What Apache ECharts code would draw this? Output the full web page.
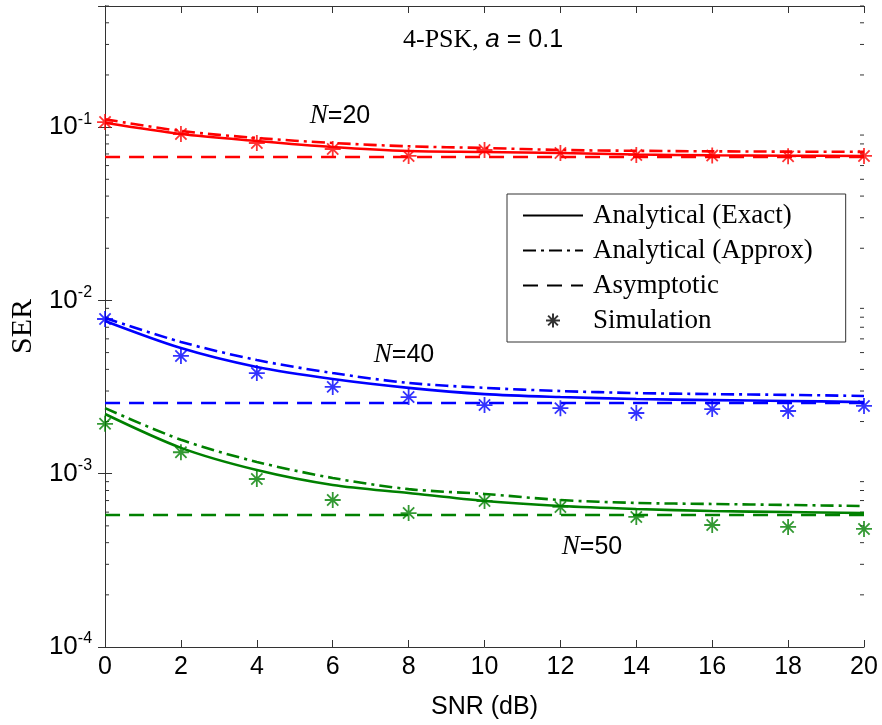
<!DOCTYPE html>
<html>
<head>
<meta charset="utf-8">
<script src="https://cdn.jsdelivr.net/npm/echarts@6/dist/echarts.min.js"></script>
<style>
  html, body { margin: 0; padding: 0; background: #fff; }
  #chart { width: 882px; height: 725px; }
</style>
</head>
<body>
<div id="chart"></div>
<script>
// SNR grid (dB)
const snr = [0, 2, 4, 6, 8, 10, 12, 14, 16, 18, 20]

// N = 20 (red)
const exact20  = [0.106, 0.0913, 0.0832, 0.0768, 0.0728, 0.0719, 0.0709, 0.0695, 0.0688, 0.0684, 0.0682]
const approx20 = [0.111, 0.095, 0.0866, 0.081, 0.0775, 0.0758, 0.0738, 0.073, 0.0725, 0.0722, 0.072]
const sim20    = [0.107, 0.0913, 0.081, 0.0748, 0.0682, 0.0738, 0.0709, 0.0691, 0.0685, 0.0678, 0.0682]
const asym20   = 0.0673

// N = 40 (blue)
const exact40  = [0.00761, 0.00531, 0.00413, 0.00352, 0.00313, 0.00288, 0.00277, 0.0027, 0.00266, 0.00263, 0.00259]
const approx40 = [0.00792, 0.00576, 0.00453, 0.00381, 0.00334, 0.00313, 0.003, 0.00292, 0.00288, 0.00285, 0.00281]
const sim40    = [0.00781, 0.00478, 0.00381, 0.00317, 0.00277, 0.00249, 0.00239, 0.00224, 0.00236, 0.0023, 0.00246]
const asym40   = 0.00256

// N = 50 (green)
const exact50  = [0.00221, 0.00141, 0.00105, 0.000861, 0.000774, 0.000696, 0.000651, 0.000626, 0.000609, 0.000601, 0.000593]
const approx50 = [0.00239, 0.00157, 0.00117, 0.000945, 0.000815, 0.000764, 0.000705, 0.000678, 0.000669, 0.00066, 0.000651]
const sim50    = [0.00194, 0.00133, 0.000932, 0.000705, 0.000593, 0.000696, 0.000643, 0.000563, 0.000506, 0.000493, 0.00048]
const asym50   = 0.000578

// log axis decades and minor-tick mantissas
const decades = [1e-4, 1e-3, 1e-2, 1e-1]
const mantissas = [2, 3, 4, 5, 6, 7, 8, 9]
const yMin = 1e-4, yMax = 0.5

const minorVals = []
decades.forEach(d => mantissas.forEach(m => { if (m * d <= yMax + 1e-12) minorVals.push(m * d) }))

const sans = 'Liberation Sans'
const serif = 'Liberation Serif'
const axisColor = '#333'
const star = 'path://M0,-10L0,10M-10,0L10,0M-7,-7L7,7M-7,7L7,-7'

const pair = arr => snr.map((x, i) => [x, arr[i]])

function curve(arr, color, type) {
  return {
    type: 'line', data: pair(arr), symbol: 'none', smooth: 0.3,
    lineStyle: { color: color, width: 2.6, type: type }, z: 3, silent: true
  }
}
function asymLine(v, color) {
  return {
    type: 'line', data: [[snr[0], v], [snr[snr.length - 1], v]], symbol: 'none',
    lineStyle: { color: color, width: 2.6, type: [15, 9] }, z: 3, silent: true
  }
}
function simPoints(arr, color) {
  return {
    type: 'scatter', data: pair(arr), symbol: star, symbolSize: 16,
    itemStyle: { color: 'none', borderColor: color, borderWidth: 1.8 }, z: 4, silent: true
  }
}

const dashDot = [13, 5, 3, 5]
const red = '#ff0000', blue = '#0000ff', green = '#008000'
const clear = 'rgba(0,0,0,0)'

const expFormatter = v => {
  const l = Math.log10(v)
  const e = Math.round(l)
  if (Math.abs(l - e) > 1e-6) return ''
  return '{b|10}{e|' + e + '}'
}

const chart = echarts.init(document.getElementById('chart'))

chart.setOption({
  animation: false,
  backgroundColor: '#fff',
  grid: { left: 101, right: 18, top: 6, bottom: 78 },
  xAxis: [{
    type: 'value', min: 0, max: 20, interval: 2,
    name: 'SNR (dB)', nameLocation: 'middle', nameGap: 48,
    nameTextStyle: { fontFamily: sans, fontSize: 25, color: '#000' },
    axisLine: { lineStyle: { color: axisColor, width: 1 } },
    axisTick: { inside: true, length: 7, lineStyle: { color: axisColor } },
    axisLabel: { fontFamily: sans, fontSize: 25, color: '#000', margin: 8 },
    splitLine: { show: false }
  }, {
    type: 'value', min: 0, max: 20, interval: 2, position: 'top',
    axisLine: { lineStyle: { color: axisColor, width: 1 } },
    axisTick: { inside: true, length: 7, lineStyle: { color: axisColor } },
    axisLabel: { show: false }, splitLine: { show: false }
  }],
  yAxis: [{
    type: 'log', logBase: 10, min: yMin, max: yMax,
    name: 'SER', nameLocation: 'middle', nameGap: 66,
    nameTextStyle: { fontFamily: serif, fontSize: 30, color: '#000' },
    axisLine: { lineStyle: { color: axisColor, width: 1 } },
    axisTick: { inside: true, length: 7, lineStyle: { color: axisColor } },
    axisLabel: {
      formatter: expFormatter, margin: 13,
      rich: {
        b: { fontFamily: sans, fontSize: 26, color: '#000', lineHeight: 30 },
        e: { fontFamily: sans, fontSize: 16, color: '#000', lineHeight: 16, padding: [0, 0, 16, 0] }
      }
    },
    splitLine: { show: false }
  }, {
    type: 'log', logBase: 10, min: yMin, max: yMax, position: 'right',
    axisLine: { lineStyle: { color: axisColor, width: 1 } },
    axisTick: { inside: true, length: 7, lineStyle: { color: axisColor } },
    axisLabel: { show: false }, splitLine: { show: false }
  }],
  legend: {
    data: ['Analytical (Exact)', 'Analytical (Approx)', 'Asymptotic', 'Simulation'],
    orient: 'vertical', left: 507, top: 194,
    padding: [8, 33, 8, 15], itemGap: 8, itemWidth: 60, itemHeight: 14,
    backgroundColor: '#fff', borderColor: '#333', borderWidth: 1,
    textStyle: { fontFamily: serif, fontSize: 27, color: '#000', padding: [0, 0, 0, 5] },
    selectedMode: false
  },
  graphic: [
    {
      type: 'text', x: 483, y: 40, z: 10,
      style: {
        text: '{s|4-PSK, }{i|a}{n| = 0.1}', align: 'center', verticalAlign: 'middle',
        rich: {
          s: { fontFamily: serif, fontSize: 26, fill: '#000' },
          i: { fontFamily: sans, fontStyle: 'italic', fontSize: 26, fill: '#000' },
          n: { fontFamily: sans, fontSize: 25, fill: '#000' }
        }
      }
    },
    ...[['20', 340, 116], ['40', 404, 355], ['50', 592, 547]].map(([n, x, y]) => ({
      type: 'text', x: x, y: y, z: 10,
      style: {
        text: '{i|N}{n|=' + n + '}', align: 'center', verticalAlign: 'middle',
        rich: {
          i: { fontFamily: serif, fontStyle: 'italic', fontSize: 27, fill: '#000' },
          n: { fontFamily: sans, fontSize: 25, fill: '#000' }
        }
      }
    }))
  ],
  series: [
    // minor ticks on the log axis, both sides
    {
      type: 'custom', silent: true, z: 1,
      data: minorVals.map(v => [snr[0], v]),
      renderItem: (params, api) => {
        const v = api.value(1)
        const l = api.coord([snr[0], v])
        const r = api.coord([snr[snr.length - 1], v])
        const st = { stroke: axisColor, lineWidth: 1 }
        return {
          type: 'group', children: [
            { type: 'line', shape: { x1: l[0], y1: l[1], x2: l[0] + 4, y2: l[1] }, style: st },
            { type: 'line', shape: { x1: r[0] - 4, y1: r[1], x2: r[0], y2: r[1] }, style: st }
          ]
        }
      }
    },
    // legend entries (black)
    { name: 'Analytical (Exact)', type: 'line', data: [], symbol: 'none', lineStyle: { color: '#000', width: 2.6 }, itemStyle: { color: clear, borderColor: clear } },
    { name: 'Analytical (Approx)', type: 'line', data: [], symbol: 'none', lineStyle: { color: '#000', width: 2.6, type: dashDot }, itemStyle: { color: clear, borderColor: clear } },
    { name: 'Asymptotic', type: 'line', data: [], symbol: 'none', lineStyle: { color: '#000', width: 2.6, type: [15, 9] }, itemStyle: { color: clear, borderColor: clear } },
    { name: 'Simulation', type: 'scatter', data: [], symbol: star, symbolSize: 14, itemStyle: { color: 'none', borderColor: '#000', borderWidth: 1.6 } },

    curve(exact20, red, 'solid'), curve(approx20, red, dashDot), asymLine(asym20, red), simPoints(sim20, red),
    curve(exact40, blue, 'solid'), curve(approx40, blue, dashDot), asymLine(asym40, blue), simPoints(sim40, blue),
    curve(exact50, green, 'solid'), curve(approx50, green, dashDot), asymLine(asym50, green), simPoints(sim50, green)
  ]
})
</script>
</body>
</html>
